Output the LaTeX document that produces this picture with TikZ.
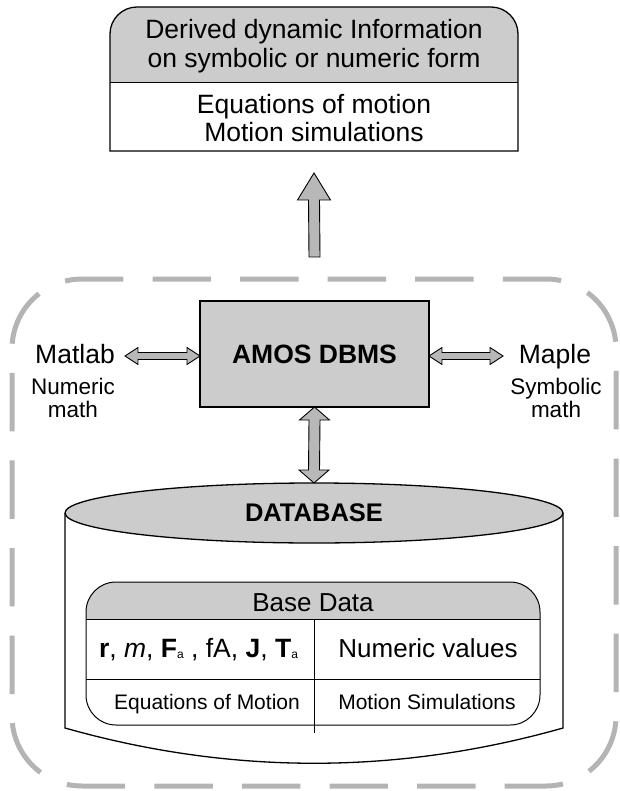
\documentclass[tikz,border=0pt]{standalone}
\usepackage{fontspec}
\setmainfont{Liberation Sans}
\usetikzlibrary{calc,shapes.geometric}
\definecolor{boxgray}{HTML}{CCCCCC}
\definecolor{dashgray}{HTML}{B4B4B4}
\definecolor{arrowgray}{HTML}{B8B8B8}
\newcommand{\hdblarrow}[2]{%
  \draw[fatarrow] (#1) -- ($(#1)+(13,-8.5)$) -- ($(#1)+(13,-3.5)$) -- ($(#2)+(-13,-3.5)$) -- ($(#2)+(-13,-8.5)$) -- (#2)
    -- ($(#2)+(-13,8.5)$) -- ($(#2)+(-13,3.5)$) -- ($(#1)+(13,3.5)$) -- ($(#1)+(13,8.5)$) -- cycle;}
\newcommand{\vdblarrow}[2]{%
  \draw[fatarrow] (#1) -- ($(#1)+(15,13)$) -- ($(#1)+(5.5,13)$) -- ($(#2)+(5.5,-13)$) -- ($(#2)+(15,-13)$) -- (#2)
    -- ($(#2)+(-15,-13)$) -- ($(#2)+(-5.5,-13)$) -- ($(#1)+(-5.5,13)$) -- ($(#1)+(-15,13)$) -- cycle;}
\begin{document}
\begin{tikzpicture}[x=1pt,y=-1pt,
  outline/.style={draw=black, line width=1.3pt},
  thinline/.style={draw=black, line width=0.9pt},
  fatarrow/.style={draw=black, line width=0.9pt, fill=arrowgray, line join=miter},
  txt/.style={inner sep=0pt, outer sep=0pt, anchor=base},
  fbig/.style={font=\fontsize{26.5}{30}\selectfont},
  fmid/.style={font=\fontsize{26}{30}\selectfont},
  fsmall/.style={font=\fontsize{22.5}{25}\selectfont},
  ftab/.style={font=\fontsize{21}{25}\selectfont},
  fbold/.style={font=\fontsize{26.5}{30}\selectfont\bfseries},
  frame/.style={draw=dashgray, line width=5pt, rounded corners=70pt, dash pattern=on 58.4pt off 29.18pt, dash phase=72.4pt}
]
\useasboundingbox (0,0) rectangle (619,791);

% dashed frame
\coordinate (frstart) at (330,279);
\draw[frame] (frstart) -- (616,279) -- (616,786) -- (12,786) -- (12,279) -- cycle;

% top box
\node[inner sep=0pt, outer sep=0pt, minimum width=408pt, minimum height=144pt] (topbox) at (314,79) {};
\fill[boxgray] ($(topbox.north west)+(0,75)$) [rounded corners=27pt] -- (topbox.north west) -- (topbox.north east) [sharp corners] -- ($(topbox.north east)+(0,75)$) -- cycle;
\draw[outline] (topbox.south west) [rounded corners=27pt] -- (topbox.north west) -- (topbox.north east) [sharp corners] -- (topbox.south east) -- cycle;
\draw[thinline] ($(topbox.north west)+(0,75)$) -- ($(topbox.north east)+(0,75)$);
\node[txt, fbig] (derived1) at (314,39) {Derived dynamic Information};
\node[txt, fbig] (derived2) at (314,68) {on symbolic or numeric form};
\node[txt, fbig] (eqmotion) at (314,114) {Equations of motion};
\node[txt, fbig] (motsim) at (314,142) {Motion simulations};

% AMOS DBMS
\node[outline, fill=boxgray, inner sep=0pt, outer sep=0pt, minimum width=229pt, minimum height=106pt, fbold] (dbms) at (314.5,354) {AMOS DBMS};

% up arrow
\coordinate (uptip) at ($(topbox.south)+(0,22)$);
\coordinate (uptail) at ($(dbms.north)+(0,-44)$);
\draw[fatarrow] (uptip) -- ($(uptip)+(16.5,27)$) -- ($(uptip)+(5.5,27)$) -- ($(uptail)+(5.5,0)$) -- ($(uptail)+(-5.5,0)$) -- ($(uptip)+(-5.5,27)$) -- ($(uptip)+(-16.5,27)$) -- cycle;

% Matlab / Maple
\node[txt, fbig] (matlab) at (75,363) {Matlab};
\node[txt, fsmall] (numeric) at (73,394) {Numeric};
\node[txt, fsmall] (nmath) at (73,417) {math};
\node[txt, fbig] (maple) at (555,363) {Maple};
\node[txt, fsmall] (symbolic) at (556,394) {Symbolic};
\node[txt, fsmall] (smath) at (556,417) {math};

\coordinate (la) at (125,356);
\coordinate (lb) at (dbms.west |- la);
\coordinate (ra) at (dbms.east |- la);
\coordinate (rb) at (503,356);
\hdblarrow{la}{lb}
\hdblarrow{ra}{rb}

% database cylinder
\node[ellipse, outline, fill=boxgray, inner sep=0pt, outer sep=0pt, minimum width=498pt, minimum height=60pt, font=\fontsize{25.5}{30}\selectfont\bfseries] (dbtop) at (314,513) {DATABASE};
\draw[outline] (dbtop.west) -- ($(dbtop.west)+(0,215)$) .. controls ($(dbtop.west)+(166,262)$) and ($(dbtop.east)+(-166,262)$) .. ($(dbtop.east)+(0,215)$) -- (dbtop.east);

\coordinate (vtop) at (dbms.south);
\coordinate (vbot) at (dbtop.north);
\vdblarrow{vtop}{vbot}

% base data table
\node[inner sep=0pt, outer sep=0pt, minimum width=454pt, minimum height=143pt] (base) at (313,653.5) {};
\fill[boxgray] ($(base.north west)+(0,37)$) [rounded corners=30pt] -- (base.north west) -- (base.north east) [sharp corners] -- ($(base.north east)+(0,37)$) -- cycle;
\draw[line width=1pt, rounded corners=30pt] (base.south west) rectangle (base.north east);
\draw[line width=1pt] ($(base.north west)+(0,37)$) -- ($(base.north east)+(0,37)$);
\draw[line width=1pt] ($(base.north west)+(0,97)$) -- ($(base.north east)+(0,97)$);
\coordinate (vdiv) at (314,619);
\draw[line width=1pt] (vdiv) -- ++(0,114);

\node[txt, font=\fontsize{26}{30}\selectfont] (basedata) at (313,611) {Base Data};
\node[txt, font=\fontsize{26.5}{30}\selectfont] (symbols) at (198.5,657) {\textbf{r}, \textit{m}, \textbf{F}\raisebox{-1pt}{\fontsize{12}{12}\selectfont a} , fA, \textbf{J}, \textbf{T}\raisebox{-1pt}{\fontsize{12}{12}\selectfont a}};
\node[txt, fmid] (numvals) at (428,657) {Numeric values};
\node[txt, ftab] (eqofmot) at (207,709) {Equations of Motion};
\node[txt, ftab] (motsims) at (427,709) {Motion Simulations};
\end{tikzpicture}
\end{document}
